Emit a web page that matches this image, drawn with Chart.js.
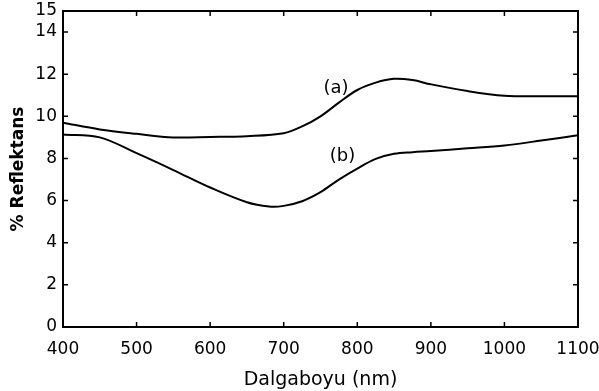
<!DOCTYPE html>
<html>
<head>
<meta charset="utf-8">
<script src="https://cdn.jsdelivr.net/npm/chart.js@4"></script>
<style>
  html, body { margin: 0; padding: 0; background: #fff; }
  #wrap { width: 599px; height: 391px; }
</style>
</head>
<body>
<div id="wrap"><canvas id="refChart"></canvas></div>
<script>
// wavelengths (nm) and reflectance (%)
var dalgaboyuA = [400, 450, 500, 550, 600, 650, 700, 725, 750, 775, 800, 825, 850, 875, 900, 950, 1000, 1050, 1100];
var egriA      = [9.70, 9.38, 9.17, 9.00, 9.02, 9.06, 9.20, 9.52, 10.0, 10.65, 11.25, 11.60, 11.78, 11.72, 11.52, 11.20, 10.98, 10.95, 10.95];

var dalgaboyuB = [400, 450, 500, 550, 600, 650, 680, 700, 725, 750, 775, 800, 825, 850, 875, 900, 950, 1000, 1050, 1100];
var egriB      = [9.14, 9.00, 8.25, 7.45, 6.62, 5.92, 5.72, 5.75, 5.97, 6.40, 7.00, 7.52, 7.98, 8.22, 8.30, 8.35, 8.48, 8.62, 8.85, 9.10];

var yTicks = [0, 2, 4, 6, 8, 10, 12, 14, 15];
var etiketler = [
  { text: '(a)', x: 771, y: 11.34 },
  { text: '(b)', x: 780, y: 8.08 }
];

var fontAdi = '"DejaVu Sans", sans-serif';

function noktalar(xs, ys) {
  var out = [];
  for (var i = 0; i < xs.length; i++) {
    out.push({ x: xs[i], y: ys[i] });
  }
  return out;
}

// frame, inward tick marks and curve labels
var cerceve = {
  id: 'cerceve',
  afterDraw: function (chart) {
    var ctx = chart.ctx;
    var a = chart.chartArea;
    var sx = chart.scales.x;
    var sy = chart.scales.y;
    ctx.save();
    ctx.strokeStyle = '#000';
    ctx.lineWidth = 2;
    ctx.strokeRect(a.left, a.top, a.right - a.left, a.bottom - a.top);
    ctx.lineWidth = 1.5;
    ctx.beginPath();
    sx.ticks.forEach(function (t) {
      var px = sx.getPixelForValue(t.value);
      ctx.moveTo(px, a.bottom); ctx.lineTo(px, a.bottom - 5);
      ctx.moveTo(px, a.top); ctx.lineTo(px, a.top + 5);
    });
    sy.ticks.forEach(function (t) {
      var py = sy.getPixelForValue(t.value);
      ctx.moveTo(a.left, py); ctx.lineTo(a.left + 5, py);
      ctx.moveTo(a.right, py); ctx.lineTo(a.right - 5, py);
    });
    ctx.stroke();

    ctx.fillStyle = '#000';
    ctx.font = '18px ' + fontAdi;
    ctx.textAlign = 'center';
    ctx.textBaseline = 'middle';
    etiketler.forEach(function (e) {
      ctx.fillText(e.text, sx.getPixelForValue(e.x), sy.getPixelForValue(e.y));
    });
    ctx.restore();
  }
};

var ctx = document.getElementById('refChart');

new Chart(ctx, {
  type: 'line',
  data: {
    datasets: [{
      label: '(a)',
      data: noktalar(dalgaboyuA, egriA),
      borderColor: '#000',
      borderWidth: 2,
      pointRadius: 0,
      tension: 0.35,
      fill: false
    }, {
      label: '(b)',
      data: noktalar(dalgaboyuB, egriB),
      borderColor: '#000',
      borderWidth: 2,
      pointRadius: 0,
      tension: 0.35,
      fill: false
    }]
  },
  options: {
    responsive: true,
    maintainAspectRatio: false,
    animation: false,
    layout: {
      padding: { left: 8, right: 21, top: 11, bottom: 0 }
    },
    scales: {
      x: {
        type: 'linear',
        min: 400,
        max: 1100,
        grid: { display: false, drawTicks: false },
        border: { display: false },
        ticks: {
          stepSize: 100,
          color: '#000',
          padding: 12,
          maxRotation: 0,
          font: { family: fontAdi, size: 17 },
          callback: function (value) { return String(value); }
        },
        title: {
          display: true,
          text: 'Dalgaboyu (nm)',
          color: '#000',
          padding: { top: 2, bottom: 0 },
          font: { family: fontAdi, size: 19 }
        },
        afterFit: function (scale) {
          scale.height = 64;
          scale.paddingLeft = 0;
          scale.paddingRight = 0;
        }
      },
      y: {
        min: 0,
        max: 15,
        afterBuildTicks: function (scale) {
          scale.ticks = yTicks.map(function (v) { return { value: v }; });
        },
        grid: { display: false, drawTicks: false },
        border: { display: false },
        ticks: {
          color: '#000',
          padding: 6,
          font: { family: fontAdi, size: 17 }
        },
        title: {
          display: true,
          text: '% Reflektans',
          color: '#000',
          padding: { top: 0, bottom: 4 },
          font: { family: fontAdi, size: 17, weight: 'bold' }
        },
        afterFit: function (scale) {
          scale.width = 55;
          scale.paddingTop = 0;
          scale.paddingBottom = 0;
        }
      }
    },
    plugins: {
      legend: { display: false },
      tooltip: { enabled: false }
    }
  },
  plugins: [cerceve]
});
</script>
</body>
</html>
